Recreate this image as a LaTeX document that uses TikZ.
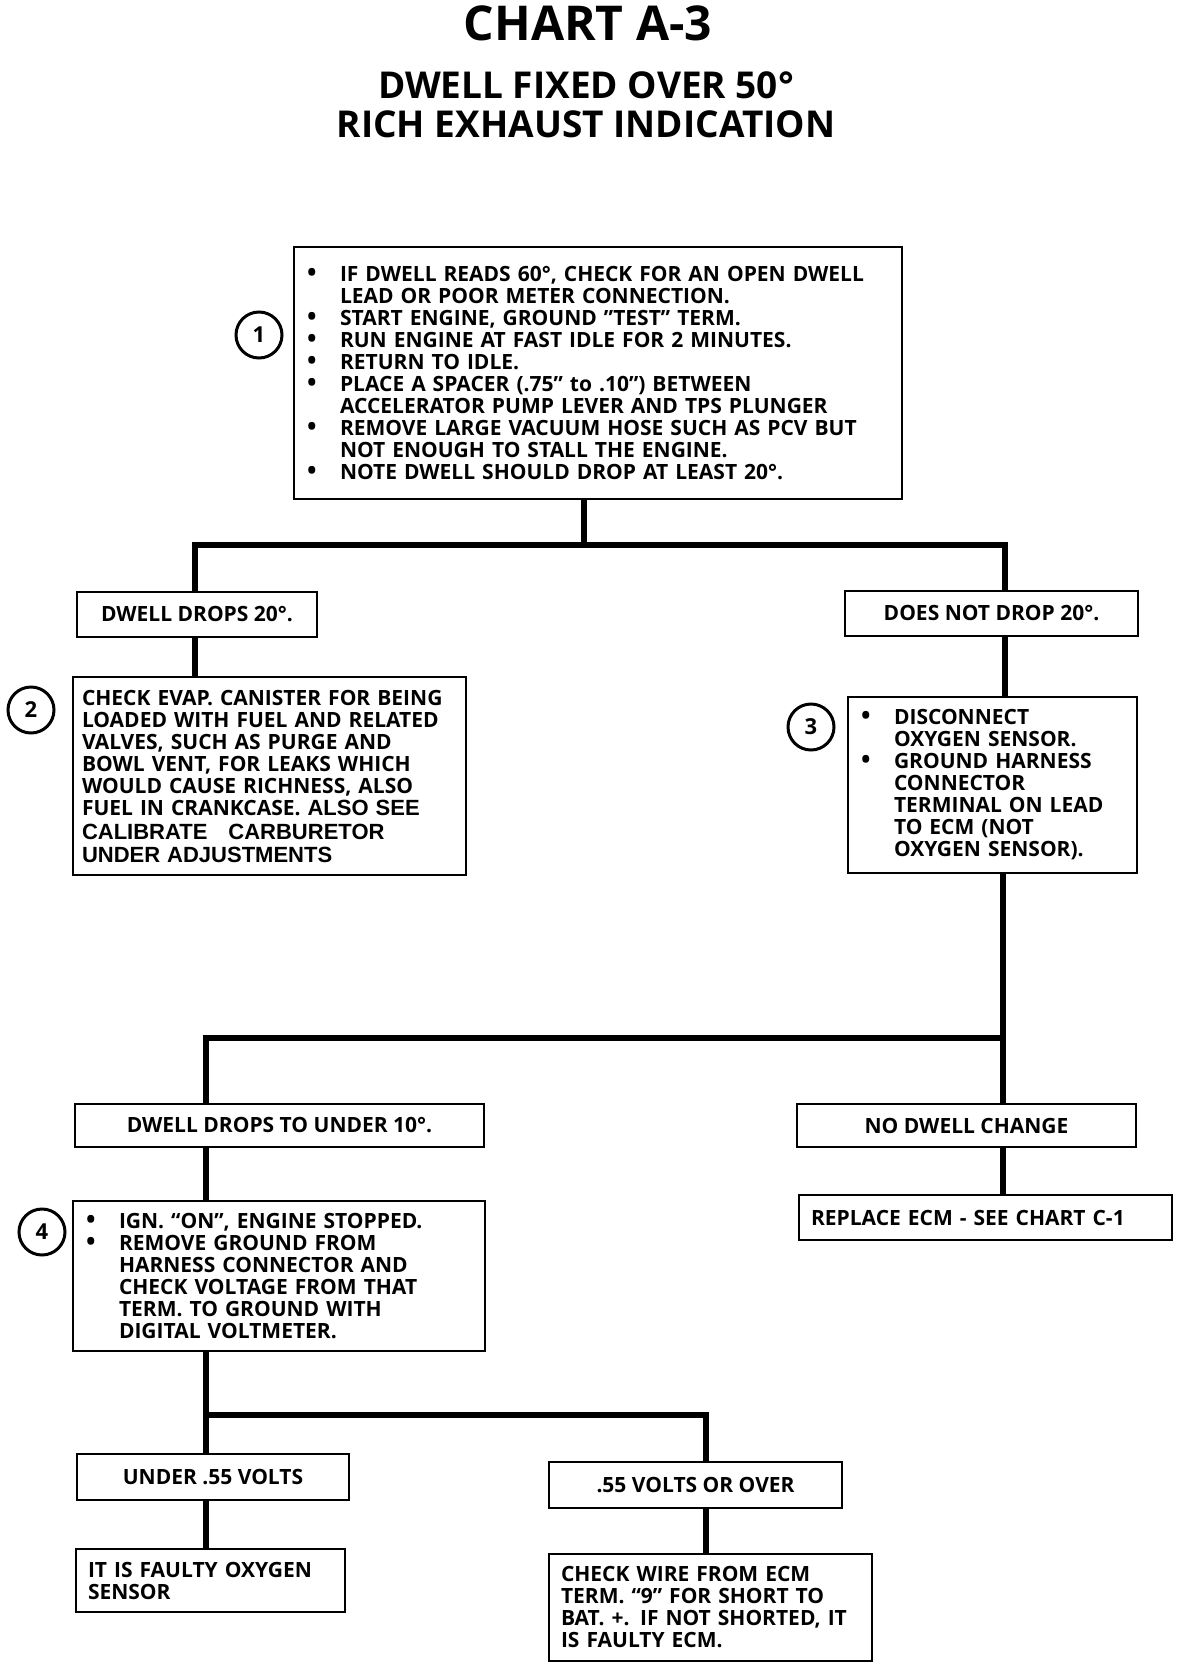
\documentclass[tikz,border=0pt]{standalone}
\usepackage{fontspec}
\setmainfont{Open Sans}
\newfontfamily\helvfont{Liberation Sans}
\usepackage{tikz}

\newcommand\blt{\makebox[36pt][l]{\hspace{3pt}\scalebox{1.2}{\textbullet}}}
\newcommand\hng{\hspace*{36pt}}

\tikzset{
	box/.style={draw, line width=2pt, inner sep=0pt, anchor=north west,
		font=\fontsize{21}{22}\selectfont\bfseries},
	txtbox/.style={box, inner xsep=10pt, align=left},
	num/.style={circle, draw, line width=3pt, minimum size=46pt, inner sep=0pt,
		font=\fontsize{22}{22}\selectfont\bfseries},
	wire/.style={line width=5.5pt, line join=miter}
}

\begin{document}
\begin{tikzpicture}[x=1pt, y=-1pt]
		\path[fill=white] (0,0) rectangle (1184,1668);

		\node[anchor=base, font=\fontsize{48}{50}\selectfont\bfseries] (title) at (588,40) {CHART A-3};
		\node[anchor=base, font=\fontsize{37}{40}\selectfont\bfseries] (sub1) at (586,98) {DWELL FIXED OVER 50°};
		\node[anchor=base, font=\fontsize{37}{40}\selectfont\bfseries] (sub2) at (586,137) {RICH EXHAUST INDICATION};

		\node[txtbox, text width=588pt, minimum height=252pt] (b1) at (293,246) {%
			\blt IF DWELL READS 60°, CHECK FOR AN OPEN DWELL\\
			\hng LEAD OR POOR METER CONNECTION.\\
			\blt START ENGINE, GROUND "TEST" TERM.\\
			\blt RUN ENGINE AT FAST IDLE FOR 2 MINUTES.\\
			\blt RETURN TO IDLE.\\
			\blt PLACE A SPACER (.75" to .10") BETWEEN\\
			\hng ACCELERATOR PUMP LEVER AND TPS PLUNGER\\
			\blt REMOVE LARGE VACUUM HOSE SUCH AS PCV BUT\\
			\hng NOT ENOUGH TO STALL THE ENGINE.\\
			\blt NOTE DWELL SHOULD DROP AT LEAST 20°.};
		\node[num] (n1) at (259,335) {1};

		\node[box, minimum width=240pt, minimum height=45pt] (dA) at (76,591) {DWELL DROPS 20°.};
		\node[box, minimum width=293pt, minimum height=45pt] (dB) at (844,590) {DOES NOT DROP 20°.};

		\node[txtbox, inner xsep=9pt, text width=375pt, minimum height=198pt] (c2) at (72,676) {%
			CHECK EVAP. CANISTER FOR BEING\\
			LOADED WITH FUEL AND RELATED\\
			VALVES, SUCH AS PURGE AND\\
			BOWL VENT, FOR LEAKS WHICH\\
			WOULD CAUSE RICHNESS, ALSO\\
			FUEL IN CRANKCASE. {\helvfont\fontsize{22}{22}\selectfont ALSO SEE}\\[2pt]
			{\helvfont\fontsize{22}{22}\selectfont CALIBRATE \ \ CARBURETOR}\\[1pt]
			{\helvfont\fontsize{22}{22}\selectfont UNDER ADJUSTMENTS}};
		\node[num] (n2) at (31,710) {2};

		\node[txtbox, text width=269pt, minimum height=176pt] (c3) at (847,696) {%
			\blt DISCONNECT\\
			\hng OXYGEN SENSOR.\\
			\blt GROUND HARNESS\\
			\hng CONNECTOR\\
			\hng TERMINAL ON LEAD\\
			\hng TO ECM (NOT\\
			\hng OXYGEN SENSOR).};
		\node[num] (n3) at (811,727) {3};

		\node[box, minimum width=409pt, minimum height=43pt] (dC) at (74,1103) {DWELL DROPS TO UNDER 10°.};
		\node[box, minimum width=339pt, minimum height=43pt] (dD) at (796,1103) {NO DWELL CHANGE};

		\node[txtbox, inner xsep=12pt, text width=349pt, minimum height=45pt] (rE) at (798,1194) {REPLACE ECM - SEE CHART C-1};

		\node[txtbox, text width=392pt, minimum height=150pt] (c4) at (72,1200) {%
			\blt IGN. “ON”, ENGINE STOPPED.\\
			\blt REMOVE GROUND FROM\\
			\hng HARNESS CONNECTOR AND\\
			\hng CHECK VOLTAGE FROM THAT\\
			\hng TERM. TO GROUND WITH\\
			\hng DIGITAL VOLTMETER.};
		\node[num] (n4) at (42,1232) {4};

		\node[box, minimum width=272pt, minimum height=46pt] (dF) at (76,1453) {UNDER .55 VOLTS};
		\node[box, minimum width=293pt, minimum height=46pt] (dG) at (548,1461) {.55 VOLTS OR OVER};

		\node[txtbox, inner xsep=12pt, text width=245pt, minimum height=63pt] (rH) at (75,1548) {%
			IT IS FAULTY OXYGEN\\
			SENSOR};
		\node[txtbox, inner xsep=12pt, text width=299pt, minimum height=107pt] (rI) at (548,1553) {%
			CHECK WIRE FROM ECM\\
			TERM. “9” FOR SHORT TO\\
			BAT. +. IF NOT SHORTED, IT\\
			IS FAULTY ECM.};

		\coordinate (j1) at (584,545);
		\coordinate (l1) at (195,545);
		\coordinate (r1) at (1005,545);
		\coordinate (l2) at (206,1038);
		\coordinate (r2) at (1003,1038);
		\coordinate (l3) at (206,1415);
		\coordinate (r3) at (706,1415);

		\draw[wire] (b1.south -| j1) -- (j1);
		\draw[wire] (dA.north -| l1) -- (l1) -- (r1) -- (dB.north -| r1);
		\draw[wire] (dA.south -| l1) -- (c2.north -| l1);
		\draw[wire] (dB.south -| r1) -- (c3.north -| r1);
		\draw[wire] (c3.south -| r2) -- (dD.north -| r2);
		\draw[wire] (r2) -- (l2) -- (dC.north -| l2);
		\draw[wire] (dD.south -| r2) -- (rE.north -| r2);
		\draw[wire] (dC.south -| l2) -- (c4.north -| l2);
		\draw[wire] (c4.south -| l3) -- (dF.north -| l3);
		\draw[wire] (l3) -- (r3) -- (dG.north -| r3);
		\draw[wire] (dF.south -| l3) -- (rH.north -| l3);
		\draw[wire] (dG.south -| r3) -- (rI.north -| r3);
	\end{tikzpicture}
\end{document}
